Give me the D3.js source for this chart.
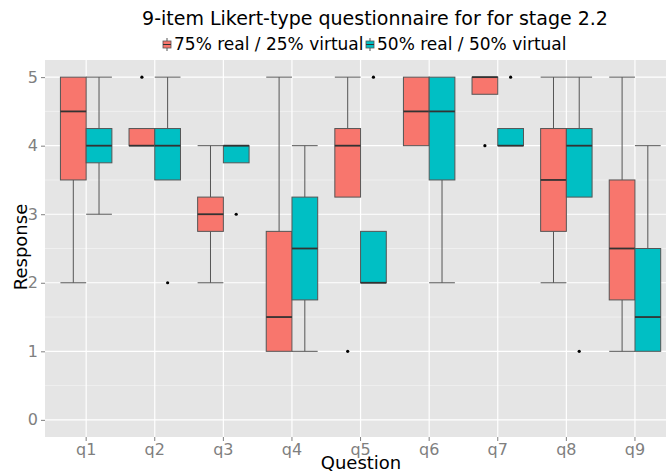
<!DOCTYPE html>
<html>
<head>
<meta charset="utf-8">
<script src="https://cdn.jsdelivr.net/npm/d3@7"></script>
<style>
  body { margin: 0; background: #fff; }
  text { font-family: "DejaVu Sans", sans-serif; }
</style>
</head>
<body>
<div id="chart"></div>
<script>
// questions on the x axis
var questions = ['q1', 'q2', 'q3', 'q4', 'q5', 'q6', 'q7', 'q8', 'q9'];
var groups = ['75% real / 25% virtual', '50% real / 50% virtual'];
var colors = ['#F8766D', '#00BFC4'];
var yTicks = [0, 1, 2, 3, 4, 5];

// box stats per question: [lower whisker, q1, median, q3, upper whisker]
var real75 = [
  [2, 3.5, 4.5, 5, 5],
  [4, 4, 4, 4.25, 4.25],
  [2, 2.75, 3, 3.25, 4],
  [1, 1, 1.5, 2.75, 5],
  [3.25, 3.25, 4, 4.25, 5],
  [4, 4, 4.5, 5, 5],
  [4.75, 4.75, 5, 5, 5],
  [2, 2.75, 3.5, 4.25, 5],
  [1, 1.75, 2.5, 3.5, 5]
];
var real50 = [
  [3, 3.75, 4, 4.25, 5],
  [3.5, 3.5, 4, 4.25, 5],
  [3.75, 3.75, 4, 4, 4],
  [1, 1.75, 2.5, 3.25, 4],
  [2, 2, 2, 2.75, 2.75],
  [2, 3.5, 4.5, 5, 5],
  [4, 4, 4, 4.25, 4.25],
  [3.25, 3.25, 4, 4.25, 5],
  [1, 1, 1.5, 2.5, 4]
];
// outliers per question
var out75 = [[], [5], [], [], [1], [], [4], [], []];
var out50 = [[], [2], [3], [], [5], [], [5], [1], []];

var W = 666, H = 475;
var margin = {left: 45, top: 60, bottom: 38};
var step = 68.6;
var panelW = step * 9.2;

var svg = d3.select('#chart').append('svg')
  .attr('width', W)
  .attr('height', H);

var x = d3.scaleBand()
  .domain(questions)
  .range([margin.left, margin.left + panelW])
  .paddingOuter(0.1)
  .paddingInner(0);

var y = d3.scaleLinear()
  .domain([-0.25, 5.25])
  .range([H - margin.bottom, margin.top]);

var dodge = d3.scaleBand()
  .domain([0, 1])
  .range([-x.bandwidth() * 0.375, x.bandwidth() * 0.375]);

// panel background
svg.append('rect')
  .attr('x', margin.left)
  .attr('y', margin.top)
  .attr('width', panelW)
  .attr('height', H - margin.bottom - margin.top)
  .attr('fill', '#E5E5E5');

// minor grid
svg.append('g').selectAll('line')
  .data(yTicks.slice(0, -1).map(function(d) { return d + 0.5; }))
  .enter().append('line')
  .attr('x1', margin.left).attr('x2', margin.left + panelW)
  .attr('y1', function(d) { return y(d); }).attr('y2', function(d) { return y(d); })
  .attr('stroke', '#F2F2F2').attr('stroke-width', 0.8);

// major grid
svg.append('g').selectAll('line')
  .data(yTicks)
  .enter().append('line')
  .attr('x1', margin.left).attr('x2', margin.left + panelW)
  .attr('y1', function(d) { return y(d); }).attr('y2', function(d) { return y(d); })
  .attr('stroke', '#fff').attr('stroke-width', 1.2);

svg.append('g').selectAll('line')
  .data(questions)
  .enter().append('line')
  .attr('x1', function(d) { return x(d) + x.bandwidth() / 2; })
  .attr('x2', function(d) { return x(d) + x.bandwidth() / 2; })
  .attr('y1', margin.top).attr('y2', H - margin.bottom)
  .attr('stroke', '#fff').attr('stroke-width', 1.2);

// axes
var yAxis = svg.append('g')
  .attr('transform', 'translate(' + margin.left + ',0)')
  .call(d3.axisLeft(y).tickValues(yTicks).tickFormat(d3.format('d')).tickSize(4).tickPadding(3));
var xAxis = svg.append('g')
  .attr('transform', 'translate(0,' + (H - margin.bottom) + ')')
  .call(d3.axisBottom(x).tickSize(4).tickPadding(3));

[yAxis, xAxis].forEach(function(a) {
  a.select('.domain').remove();
  a.selectAll('line').attr('stroke', '#7F7F7F');
  a.selectAll('text')
    .attr('fill', '#7F7F7F')
    .style('font-size', '16px')
    .style('font-family', '"DejaVu Sans", sans-serif');
});

// boxes
var series = [real75, real50];
var outliers = [out75, out50];

series.forEach(function(s, gi) {
  var g = svg.append('g').attr('class', 'group' + gi);
  var bw = dodge.bandwidth();

  s.forEach(function(d, i) {
    var cx = x(questions[i]) + x.bandwidth() / 2 + dodge(gi) + bw / 2;
    var bx = cx - bw / 2;

    // whiskers
    g.append('line')
      .attr('x1', cx).attr('x2', cx)
      .attr('y1', y(d[3])).attr('y2', y(d[4]))
      .attr('stroke', '#555').attr('stroke-width', 1);
    g.append('line')
      .attr('x1', cx).attr('x2', cx)
      .attr('y1', y(d[0])).attr('y2', y(d[1]))
      .attr('stroke', '#555').attr('stroke-width', 1);
    if (d[4] > d[3]) {
      g.append('line')
        .attr('x1', bx).attr('x2', bx + bw)
        .attr('y1', y(d[4])).attr('y2', y(d[4]))
        .attr('stroke', '#555').attr('stroke-width', 1);
    }
    if (d[0] < d[1]) {
      g.append('line')
        .attr('x1', bx).attr('x2', bx + bw)
        .attr('y1', y(d[0])).attr('y2', y(d[0]))
        .attr('stroke', '#555').attr('stroke-width', 1);
    }

    g.append('rect')
      .attr('x', bx)
      .attr('y', y(d[3]))
      .attr('width', bw)
      .attr('height', y(d[1]) - y(d[3]))
      .attr('fill', colors[gi])
      .attr('stroke', '#555').attr('stroke-width', 1);

    g.append('line')
      .attr('x1', bx).attr('x2', bx + bw)
      .attr('y1', y(d[2])).attr('y2', y(d[2]))
      .attr('stroke', '#333').attr('stroke-width', 1.8);

    outliers[gi][i].forEach(function(o) {
      g.append('circle')
        .attr('cx', cx).attr('cy', y(o))
        .attr('r', 1.6)
        .attr('fill', '#000');
    });
  });
});

// title
svg.append('text')
  .attr('x', 375)
  .attr('y', 25)
  .attr('text-anchor', 'middle')
  .style('font-size', '19px')
  .attr('fill', '#000')
  .text('9-item Likert-type questionnaire for for stage 2.2');

// legend
var legX = [162, 365];
groups.forEach(function(name, gi) {
  var lg = svg.append('g').attr('transform', 'translate(' + legX[gi] + ',38)');
  lg.append('line').attr('x1', 5).attr('x2', 5).attr('y1', 0).attr('y2', 13)
    .attr('stroke', '#555');
  lg.append('rect').attr('x', 1).attr('y', 3).attr('width', 8).attr('height', 7)
    .attr('fill', colors[gi]).attr('stroke', '#555').attr('stroke-width', 0.8);
  lg.append('line').attr('x1', 1).attr('x2', 9).attr('y1', 6.5).attr('y2', 6.5)
    .attr('stroke', '#333');
  lg.append('text')
    .attr('x', 12)
    .attr('y', 12)
    .style('font-size', '17px')
    .attr('fill', '#000')
    .text(name);
});

// axis titles
svg.append('text')
  .attr('x', 361)
  .attr('y', 469)
  .attr('text-anchor', 'middle')
  .style('font-size', '18px')
  .attr('fill', '#000')
  .text('Question');

svg.append('text')
  .attr('transform', 'translate(27,247) rotate(-90)')
  .attr('text-anchor', 'middle')
  .style('font-size', '18px')
  .attr('fill', '#000')
  .text('Response');
</script>
</body>
</html>
